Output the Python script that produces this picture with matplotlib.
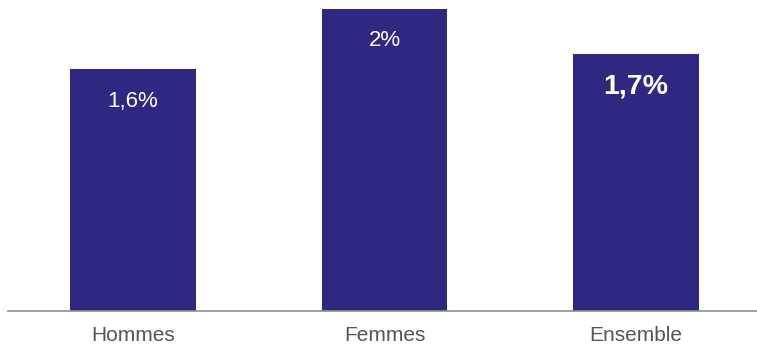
import matplotlib.pyplot as plt

categories = ["Hommes", "Femmes", "Ensemble"]
values = [1.6, 2.0, 1.7]
labels = ["1,6%", "2%", "1,7%"]
bold = [False, False, True]

plt.rcParams['font.family'] = ['Liberation Sans', 'DejaVu Sans']

fig = plt.figure(figsize=(7.57, 3.46), dpi=100)
ax = fig.add_axes([8 / 757, 35 / 346, 749 / 757, 311 / 346])

x = range(len(categories))
bars = ax.bar(x, values, width=0.5, color="#2e2882")

for b, lab, bd in zip(bars, labels, bold):
    if bd:
        ax.text(b.get_x() + b.get_width() / 2, b.get_height() - 0.21, lab,
                ha="center", va="center", color="white", fontsize=20.5, fontweight="bold")
    else:
        ax.text(b.get_x() + b.get_width() / 2, b.get_height() - 0.21, lab,
                ha="center", va="center", color="white", fontsize=16)

ax.set_xlim(-0.497, 2.481)
ax.set_ylim(0, 2.06)
ax.set_xticks(list(x))
ax.set_xticklabels(categories, fontsize=15, color="#555555")
ax.tick_params(axis="x", length=0, pad=10.5)
ax.set_yticks([])
for s in ["top", "right", "left"]:
    ax.spines[s].set_visible(False)
ax.spines["bottom"].set_color("#8c8c8c")
ax.spines["bottom"].set_linewidth(1.2)

fig.savefig("out.png", dpi=100)
